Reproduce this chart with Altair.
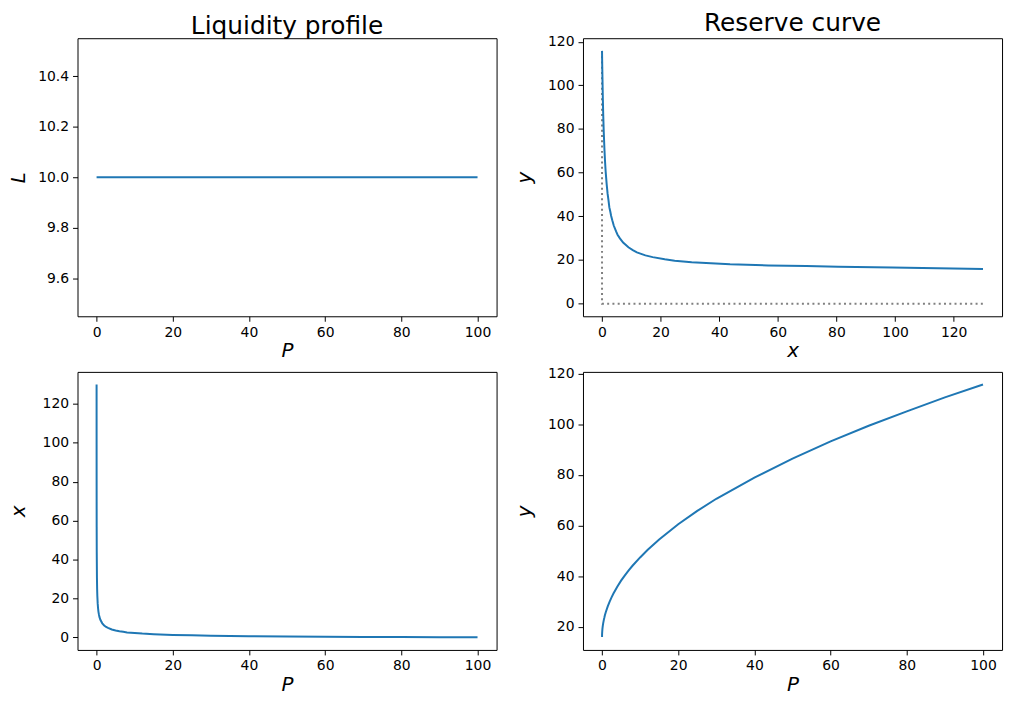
import altair as alt
import pandas as pd

# Price grid and values
P = [0.006, 0.01, 0.015, 0.02, 0.03, 0.05, 0.1, 0.15, 0.2, 0.3, 0.4, 0.5, 0.6, 0.75,
     1, 1.5, 2, 2.5, 3, 4, 5, 6, 7, 8, 10, 12, 15, 20, 25, 30, 40, 50, 60, 70, 80, 90, 100]
L_vals = [10.0] * len(P)
X_vals = [130, 99, 80.6, 69.7, 56.7, 43.7, 30.6, 24.8, 21.4, 17.3, 14.8, 13.1, 11.9, 10.5,
          9.0, 7.2, 6.1, 5.3, 4.8, 4.0, 3.5, 3.1, 2.8, 2.5, 2.2, 1.9, 1.6, 1.24, 1.0, 0.83,
          0.58, 0.41, 0.29, 0.20, 0.12, 0.05, 0.0]
Y_vals = [15.9, 16.6, 16.9, 17.2, 17.5, 18.0, 19.0, 19.7, 20.3, 21.3, 22.1, 22.9, 23.5, 24.5,
          25.8, 28.0, 29.9, 31.6, 33.1, 35.8, 38.2, 40.3, 42.3, 44.1, 47.4, 50.4, 54.5, 60.5,
          65.8, 70.6, 79.0, 86.5, 93.3, 99.5, 105.2, 110.7, 115.8]

# dotted guide (x = 0 line and y = 0 line)
guide_x = [0, 0, 130]
guide_y = [115.8, 0, 0]
guide_order = [0, 1, 2]

df = pd.DataFrame({"P": P, "L": L_vals, "x": X_vals, "y": Y_vals})
gdf = pd.DataFrame({"gx": guide_x, "gy": guide_y, "o": guide_order})

BLUE = "#1f77b4"
W, H = 422, 280
TFS = 20
LFS = 14
SW = 2


def xax(title, vals):
    return alt.Axis(title=title, values=vals, titleFontStyle="italic", titleFontSize=TFS,
                    titleFontWeight="normal", titlePadding=2, labelPadding=4, grid=False,
                    domain=False, tickSize=5, labelFontSize=LFS, labelColor="black",
                    titleColor="black", tickColor="black", labelFlush=False)


def yax(title, vals, fmt="d"):
    return alt.Axis(title=title, values=vals, format=fmt, titleFontStyle="italic",
                    titleFontSize=TFS, titleFontWeight="normal", titlePadding=8,
                    labelPadding=4, grid=False, domain=False, tickSize=5, labelFontSize=LFS,
                    labelColor="black", titleColor="black", tickColor="black",
                    minExtent=41, maxExtent=41, labelFlush=False)


def ttl(text):
    return alt.TitleParams(text=text, fontSize=25, fontWeight="normal", color="black",
                           offset=-1, font="DejaVu Sans")


p_ticks = [0, 20, 40, 60, 80, 100]

tl = alt.Chart(df).mark_line(color=BLUE, strokeWidth=SW).encode(
    x=alt.X("P:Q", scale=alt.Scale(domain=[-5, 105], nice=False, zero=False), axis=xax("P", p_ticks)),
    y=alt.Y("L:Q", scale=alt.Scale(domain=[9.45, 10.55], nice=False, zero=False),
            axis=yax("L", [9.6, 9.8, 10.0, 10.2, 10.4], ".1f")),
).properties(width=W, height=H, title=ttl("Liquidity profile"))

guide = alt.Chart(gdf).mark_line(color="gray", strokeWidth=SW, strokeDash=[2, 3.3]).encode(
    x=alt.X("gx:Q"), y=alt.Y("gy:Q"), order="o:Q")
curve = alt.Chart(df).mark_line(color=BLUE, strokeWidth=SW).encode(
    x=alt.X("x:Q", scale=alt.Scale(domain=[-6.5, 136.5], nice=False, zero=False),
            axis=xax("x", [0, 20, 40, 60, 80, 100, 120])),
    y=alt.Y("y:Q", scale=alt.Scale(domain=[-5.79, 121.6], nice=False, zero=False),
            axis=yax("y", [0, 20, 40, 60, 80, 100, 120])),
    order="P:Q")
tr = alt.layer(guide, curve).properties(width=W, height=H, title=ttl("Reserve curve"))

bl = alt.Chart(df).mark_line(color=BLUE, strokeWidth=SW).encode(
    x=alt.X("P:Q", scale=alt.Scale(domain=[-5, 105], nice=False, zero=False), axis=xax("P", p_ticks)),
    y=alt.Y("x:Q", scale=alt.Scale(domain=[-6.5, 136.5], nice=False, zero=False),
            axis=yax("x", [0, 20, 40, 60, 80, 100, 120])),
    order="P:Q",
).properties(width=W, height=H)

br = alt.Chart(df).mark_line(color=BLUE, strokeWidth=SW).encode(
    x=alt.X("P:Q", scale=alt.Scale(domain=[-5, 105], nice=False, zero=False), axis=xax("P", p_ticks)),
    y=alt.Y("y:Q", scale=alt.Scale(domain=[10.8, 120.8], nice=False, zero=False),
            axis=yax("y", [20, 40, 60, 80, 100, 120])),
    order="P:Q",
).properties(width=W, height=H)

chart = alt.vconcat(
    alt.hconcat(tl, tr, spacing=16),
    alt.hconcat(bl, br, spacing=16),
    spacing=4,
).properties(
    padding={"left": 0, "top": 0, "right": 5, "bottom": 5}
).configure(font="DejaVu Sans").configure_view(
    stroke="black", strokeWidth=1
)

chart.save("out.html", embed_options={"renderer": "svg", "actions": False})
